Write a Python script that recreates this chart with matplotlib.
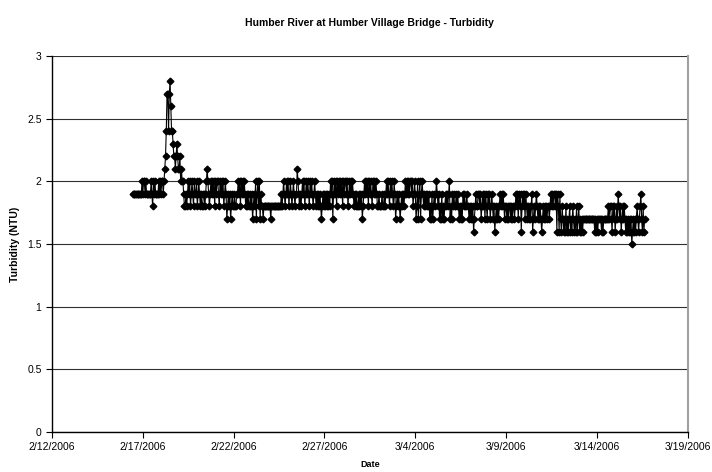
import numpy as np
import matplotlib
matplotlib.use('Agg')
import matplotlib.pyplot as plt
import matplotlib.dates as mdates
from matplotlib.ticker import FuncFormatter

plt.rcParams['font.family'] = ['Liberation Sans', 'DejaVu Sans']

# hourly turbidity readings (tenths of NTU), starting 2/16/2006 11:00
turb_a = [19, 19, 19, 19, 19, 19, 19, 19, 19, 19, 19, 19,
          20, 19, 20, 20, 19, 20, 19, 19, 19, 19, 19, 19,
          20, 19, 18, 20, 19, 20, 19, 19, 19, 19,
          20, 19, 20, 19, 20, 20, 19,
          # storm peak
          20, 21, 22, 24, 27, 27, 24, 27, 28, 26, 24, 24, 23, 22, 22, 21,
          22, 23, 22, 21, 21, 22, 20, 21, 20, 20,
          19, 18, 18, 19, 18, 19,
          20, 19, 20, 18, 19, 20, 19, 18, 20, 19, 19, 20, 18, 19, 20, 19,
          18, 19, 18, 18, 19, 19, 18, 19, 20, 21, 20, 19, 18, 19,
          20, 19, 20, 19, 20, 18, 20, 19, 20, 20, 19, 18, 20, 19, 20, 19,
          20, 18, 19, 20, 19,
          17, 18, 19, 18, 19, 17, 18, 19, 18, 18, 19, 18, 18, 19]
turb_b = [19, 20, 19, 20, 18, 20, 19, 20, 19, 20, 19, 18,
          19, 18, 19, 18, 18, 19, 18, 19,
          17, 18, 19, 18, 20, 17, 19, 20, 18, 20, 17, 19, 18,
          18, 17, 18, 18, 18, 18, 18, 18, 18, 18, 18, 17, 18, 18, 18, 18,
          18, 18, 18, 18, 18, 18, 18, 18, 18, 19, 18,
          19, 20, 19, 18, 19, 20, 19, 20, 18, 19, 20, 19, 18, 19, 20, 19, 18, 19,
          19, 21, 20, 19, 18, 19, 18, 19,
          20, 19, 20, 18, 19, 20, 19, 20, 19, 18, 20, 19, 20, 19, 18, 19, 20, 19, 18,
          19, 18, 19, 18, 19, 18, 17, 18, 19, 18, 19, 18, 19, 18, 19, 18, 19, 18,
          20, 19, 20, 17, 19, 20, 19, 20, 18, 20, 19]
turb_c = [20, 19, 20, 19, 20, 18, 20, 19, 20, 20, 19, 20, 18, 19, 20, 19, 20, 19, 20, 19,
          18, 19, 18, 19, 18, 18, 19, 18, 19, 18, 19, 17, 18, 19,
          20, 19, 20, 19, 20, 18, 20, 19, 20, 19, 18, 20, 19, 20, 19, 20, 19,
          18, 18, 19, 18, 18, 18, 19, 18, 18, 19, 18, 19,
          20, 19, 20, 19, 18, 20, 19, 20, 19, 18, 20, 19,
          17, 18, 19, 18, 19, 18, 17, 18, 19, 18, 19, 18, 19,
          20, 19, 20, 19, 20, 19, 20,
          20, 19, 20, 18, 19, 20, 19, 17, 18, 20, 17, 19, 20, 17, 19, 20, 19, 18,
          19, 18, 19, 18, 19, 18, 19,
          17, 18, 17, 19, 17, 18, 19, 18, 19,
          20, 19, 18, 19,
          17, 18, 17, 19, 17, 18, 17, 18, 19, 18, 19, 18, 19,
          20, 17, 18, 17, 19,
          18, 19, 18, 18, 19, 18, 19, 18,
          17, 18, 17, 18, 17, 19, 18, 19, 18, 18, 19, 18, 18,
          17, 18, 17, 18, 17, 18, 16, 17, 18, 19, 18, 18, 19]
turb_d = [19, 18, 19, 17, 18, 19, 18, 19, 17, 19, 18, 17, 19, 18, 19, 17, 18, 19,
          18, 17, 18, 16, 17, 18, 17, 18, 17, 18,
          19, 18, 19, 18, 19,
          18, 17, 18, 18, 17, 18, 17, 18, 18, 17, 18, 17, 18, 18, 17, 18,
          19, 18, 19, 17, 19, 18, 19, 16, 18, 19, 18, 19, 17, 19, 18,
          17, 18, 17, 18, 17, 18, 19, 16, 17, 18, 17, 18,
          19, 18,
          17, 18, 17, 18, 17, 16, 17, 18, 17, 18, 17, 18, 17, 18, 18, 17, 18,
          19, 18, 19, 18, 19, 19, 18, 19, 16, 19, 18, 16, 19, 17, 16, 18, 17,
          16, 17, 16, 18, 16, 17, 16, 17, 18, 16, 17, 16, 18, 17, 16, 17, 16, 18,
          16, 17, 18, 16, 17, 16, 17,
          16, 17, 17, 17, 17, 17, 17, 17, 17, 17, 17, 17, 17, 17, 17, 17, 16, 17,
          16, 17, 16, 17, 17, 17, 17, 16, 17, 16, 17, 17, 17, 17, 17, 17, 18, 17, 18,
          18, 17, 16, 18, 17, 18, 16, 17, 18, 17, 19, 18, 17, 18, 16, 17, 18, 17,
          18, 17, 16, 17, 16, 17, 16, 17, 16, 17, 15, 16, 17, 16, 17, 16, 17, 18,
          17, 16, 17, 18, 19, 17, 16, 18, 16, 17]

turbidity = np.array(turb_a + turb_b + turb_c + turb_d) / 10.0
start = np.datetime64('2006-02-16T11:00')
times = start + np.arange(len(turbidity)) * np.timedelta64(1, 'h')

tick_dates = ['2006-02-12', '2006-02-17', '2006-02-22', '2006-02-27',
              '2006-03-04', '2006-03-09', '2006-03-14', '2006-03-19']
y_ticks = [0, 0.5, 1, 1.5, 2, 2.5, 3]

fig = plt.figure(figsize=(7.12, 4.72), dpi=100)
ax = fig.add_axes([0.073, 0.085, 0.893, 0.796])

ax.plot(times, turbidity, color='black', lw=0.8, marker='D', markersize=3.4,
        markerfacecolor='black', markeredgecolor='black', zorder=3)

ticks = [mdates.date2num(np.datetime64(d)) for d in tick_dates]
ax.set_xlim(ticks[0], ticks[-1])
ax.set_xticks(ticks)
ax.xaxis.set_major_formatter(FuncFormatter(
    lambda v, pos: '{d.month}/{d.day}/{d.year}'.format(d=mdates.num2date(v))))
ax.set_ylim(0, 3)
ax.set_yticks(y_ticks)
ax.set_yticklabels(['0', '0.5', '1', '1.5', '2', '2.5', '3'])
ax.yaxis.grid(True, color='#303030', lw=0.8)
ax.set_axisbelow(True)

for s in ['left', 'bottom']:
    ax.spines[s].set_color('black')
    ax.spines[s].set_linewidth(1.0)
ax.spines['top'].set_visible(False)
ax.spines['right'].set_color('#a0a0a0')
ax.spines['right'].set_linewidth(1.5)

ax.tick_params(axis='both', direction='out', length=4, width=0.8,
               labelsize=7.5, colors='black')
ax.tick_params(axis='x', pad=3)

ax.set_title('Humber River at Humber Village Bridge - Turbidity',
             fontsize=7.5, fontweight='bold', pad=22)
ax.set_ylabel('Turbidity (NTU)', fontsize=7.5, fontweight='bold', labelpad=5)
ax.set_xlabel('Date', fontsize=6.5, fontweight='bold', labelpad=6)

fig.savefig('out.png', dpi=100)
